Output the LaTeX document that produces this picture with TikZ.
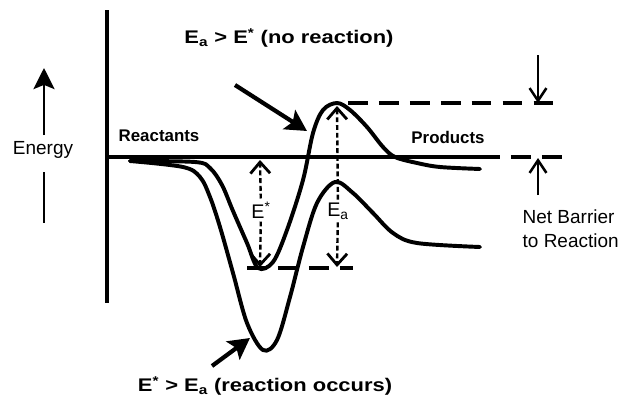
\documentclass[tikz,border=0pt]{standalone}
\usepackage{fontspec}
\setmainfont{Liberation Sans}
\newfontfamily\widefont[FakeStretch=1.2]{Liberation Sans}
\usetikzlibrary{arrows.meta}

\begin{document}
\begin{tikzpicture}[
        x=0.025cm, y=-0.025cm,
        curve/.style={line width=2.8pt, line cap=round, line join=round},
        axis/.style={line width=2.5pt},
        level/.style={line width=2.5pt, dash pattern=on 14pt off 8pt},
        gaptip/.style={line width=1.7pt, dash pattern=on 3.5pt off 2pt,
            -{Straight Barb[length=8pt,width=14pt,line width=2pt]}},
        pointer/.style={line width=3pt, -{Stealth[length=15pt,width=16pt,inset=3pt]}},
        barrier/.style={line width=1.8pt, -{Straight Barb[length=9pt,width=12pt]}},
        title/.style={font=\widefont\bfseries\fontsize{13}{15}\selectfont, inner sep=1pt},
        state/.style={font=\bfseries\fontsize{12}{14}\selectfont, inner sep=1pt},
        gaplabel/.style={font=\fontsize{14}{16}\selectfont, inner sep=2pt},
        side/.style={font=\fontsize{13.5}{17}\selectfont, inner sep=1pt},
    ]
        \useasboundingbox (0,0) rectangle (639,403);

        % axes and levels
        \coordinate (axisTop) at (107,10);
        \coordinate (axisBot) at (107,303);
        \coordinate (reactEnd) at (480,157);
        \draw[axis] (axisTop) -- (axisBot);
        \draw[axis] (107,157) -- (reactEnd);
        \draw[level] (reactEnd) -- (563,157);
        \draw[level] (348,103) -- (563,103);
        \draw[level] (247,268) -- (353,268);

        % energy profiles
        \coordinate (peak) at (337,103);
        \coordinate (well) at (258,268);
        \coordinate (deep) at (263,350);
        \draw[curve] plot[smooth, tension=0.55] coordinates {
            (130,161) (195,162) (210,168) (222,185) (233,211) (247,243) (258,268)
            (273,262) (287,230) (303,180) (313,133) (323,110) (peak) (350,110)
            (367,127) (383,147) (395,157) (417,163) (440,167) (480,169)};
        \draw[curve] plot[smooth, tension=0.55] coordinates {
            (130,161) (183,167) (200,177) (210,197) (220,227) (233,273) (247,323) (deep)
            (277,340) (290,297) (303,247) (317,203) (335,182) (353,193)
            (373,213) (393,233) (417,243) (480,247)};

        % energy axis label
        \node[side] (energy) at (43,150) {Energy};
        \coordinate (energyUp) at (44,68);
        \coordinate (energyLow) at (44,223);
        \draw[line width=2pt, -{Stealth[length=15pt,width=15pt,inset=3pt]}] (44,135) -- (energyUp);
        \draw[line width=2pt] (44,172) -- (energyLow);

        \node[state] (reactants) at (159,136) {Reactants};
        \node[state] (products) at (448,137) {Products};

        % gaps E* and Ea
        \node[gaplabel] (estar) at (261,210) {E\textsuperscript{*}};
        \node[gaplabel] (ea) at (338,211) {E\textsubscript{a}};
        \draw[gaptip] (estar) -- (260,160);
        \draw[gaptip] (estar) -- (260,267);
        \draw[gaptip] (ea) -- (337,106);
        \draw[gaptip] (ea) -- (337,267);

        % net barrier
        \draw[barrier] (538,55) -- (538,103);
        \draw[barrier] (538,195) -- (538,158);
        \node[side, anchor=west, align=left] (barrier) at (521,229) {Net Barrier\\to Reaction};

        % cases
        \node[title] (noReact) at (289,38) {E\textsubscript{a} > E\textsuperscript{*} (no reaction)};
        \node[title] (yesReact) at (265,386) {E\textsuperscript{*} > E\textsubscript{a} (reaction occurs)};
        \coordinate (noTail) at (235,85);
        \coordinate (noTip) at (307,131);
        \coordinate (yesTail) at (212,366);
        \coordinate (yesTip) at (250,338);
        \draw[pointer] (noTail) -- (noTip);
        \draw[pointer] (yesTail) -- (yesTip);
    \end{tikzpicture}
\end{document}
